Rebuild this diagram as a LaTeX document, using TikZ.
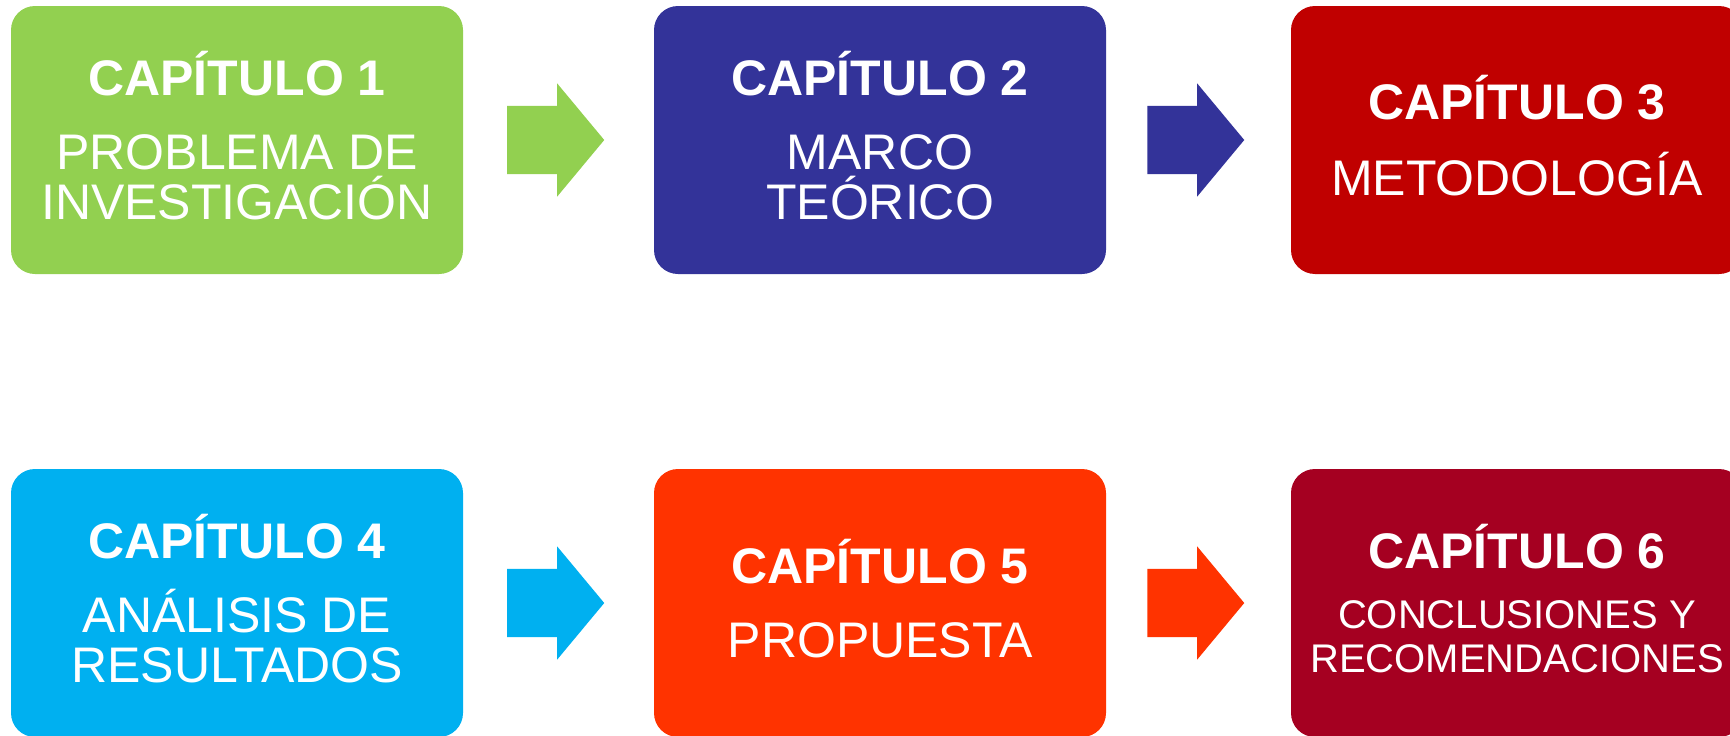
\documentclass[tikz,border=0pt]{standalone}
\usepackage{fontspec}
\setmainfont{Liberation Sans}
\usetikzlibrary{shapes.arrows}

\definecolor{verde}{HTML}{92D050}
\definecolor{indigo}{HTML}{333399}
\definecolor{rojo}{HTML}{C00000}
\definecolor{celeste}{HTML}{00B0F0}
\definecolor{naranja}{HTML}{FF3300}
\definecolor{granate}{HTML}{A50021}

\begin{document}
\begin{tikzpicture}[x=1pt,y=-1pt,
    caja/.style={rounded corners=24pt, minimum width=452pt, minimum height=268pt,
      inner sep=0pt, text=white, align=center, text depth=9pt,
      font=\fontsize{50}{50}\selectfont},
    flecha/.style={single arrow, single arrow head extend=22.5pt,
      single arrow tip angle=100.5, minimum height=97pt, minimum width=113pt,
      inner xsep=0pt, inner ysep=34pt, anchor=tip, xshift=46pt}]
    \useasboundingbox (0,0) rectangle (1730,736);

    % Cajas, fila de arriba
    \node[caja, fill=verde] (cap1) at (237,140)
      {\textbf{CAPÍTULO 1}\\[24pt]PROBLEMA DE\\INVESTIGACIÓN};
    \node[caja, fill=indigo] (cap2) at (880,140)
      {\textbf{CAPÍTULO 2}\\[24pt]MARCO\\TEÓRICO};
    \node[caja, fill=rojo] (cap3) at (1517,140)
      {\textbf{CAPÍTULO 3}\\[26pt]METODOLOGÍA};

    % Cajas, fila de abajo
    \node[caja, fill=celeste] (cap4) at (237,603)
      {\textbf{CAPÍTULO 4}\\[24pt]ANÁLISIS DE\\RESULTADOS};
    \node[caja, fill=naranja] (cap5) at (880,603)
      {\textbf{CAPÍTULO 5}\\[24pt]PROPUESTA};
    \node[caja, fill=granate] (cap6) at (1517,603)
      {\textbf{CAPÍTULO 6}\\[10pt]{\fontsize{40}{44}\selectfont CONCLUSIONES Y}\\[-6pt]%
       {\fontsize{40}{44}\selectfont RECOMENDACIONES}};

    % Flechas entre cajas
    \foreach \a/\b/\c in {cap1/cap2/verde, cap2/cap3/indigo, cap4/cap5/celeste, cap5/cap6/naranja} {
      \path (\a) -- (\b) node[midway, flecha, fill=\c] (fl-\a) {};
    }
\end{tikzpicture}
\end{document}
